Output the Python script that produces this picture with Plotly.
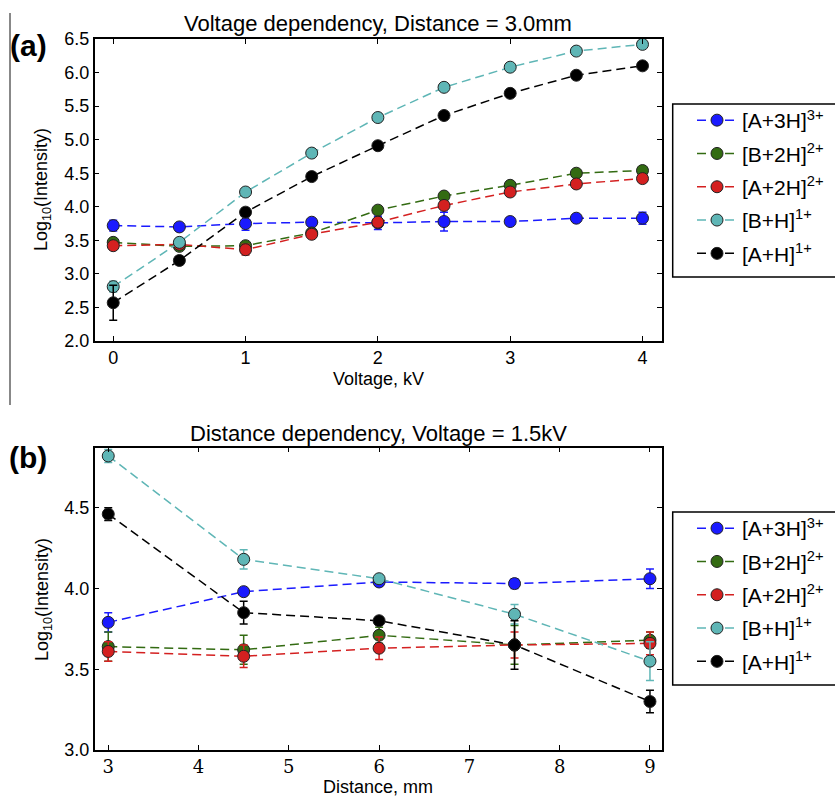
import plotly.graph_objects as go

# ---------------- data ----------------
names = ["[A+3H]<sup>3+</sup>", "[B+2H]<sup>2+</sup>", "[A+2H]<sup>2+</sup>",
         "[B+H]<sup>1+</sup>", "[A+H]<sup>1+</sup>"]
colors = ["#1a1aff", "#336b12", "#d42020", "#5fb6b6", "#000000"]

voltage = [0, 0.5, 1, 1.5, 2, 2.5, 3, 3.5, 4]
v_A3H = [3.72, 3.70, 3.75, 3.77, 3.76, 3.78, 3.78, 3.83, 3.83]
v_A3H_err = [0.08, 0.04, 0.10, 0.03, 0.10, 0.14, 0.03, 0.03, 0.09]
v_B2H = [3.47, 3.41, 3.42, 3.61, 3.95, 4.16, 4.32, 4.50, 4.54]
v_B2H_err = [0.04, 0.05, 0.04, 0.04, 0.03, 0.05, 0.05, 0.05, 0.03]
v_A2H = [3.42, 3.44, 3.36, 3.59, 3.77, 4.02, 4.22, 4.34, 4.42]
v_A2H_err = [0.05, 0.07, 0.08, 0.04, 0.04, 0.04, 0.04, 0.06, 0.03]
v_BH = [2.81, 3.47, 4.22, 4.80, 5.33, 5.78, 6.08, 6.32, 6.42]
v_BH_err = [0.08, 0.04, 0.03, 0.03, 0.03, 0.03, 0.03, 0.03, 0.05]
v_AH = [2.57, 3.20, 3.92, 4.45, 4.91, 5.36, 5.69, 5.96, 6.10]
v_AH_err = [0.26, 0.06, 0.06, 0.03, 0.03, 0.03, 0.03, 0.03, 0.03]

distance = [3, 4.5, 6, 7.5, 9]
d_A3H = [3.79, 3.98, 4.04, 4.03, 4.06]
d_A3H_err = [0.06, 0.02, 0.02, 0.03, 0.06]
d_B2H = [3.64, 3.62, 3.71, 3.65, 3.68]
d_B2H_err = [0.09, 0.09, 0.05, 0.12, 0.05]
d_A2H = [3.61, 3.58, 3.63, 3.65, 3.66]
d_A2H_err = [0.06, 0.07, 0.07, 0.08, 0.07]
d_BH = [4.82, 4.18, 4.06, 3.84, 3.55]
d_BH_err = [0.04, 0.06, 0.02, 0.06, 0.12]
d_AH = [4.46, 3.85, 3.80, 3.65, 3.30]
d_AH_err = [0.04, 0.07, 0.02, 0.15, 0.07]

volt_series = [(v_A3H, v_A3H_err), (v_B2H, v_B2H_err), (v_A2H, v_A2H_err),
               (v_BH, v_BH_err), (v_AH, v_AH_err)]
dist_series = [(d_A3H, d_A3H_err), (d_B2H, d_B2H_err), (d_A2H, d_A2H_err),
               (d_BH, d_BH_err), (d_AH, d_AH_err)]

W, H = 835, 796
fig = go.Figure()

def add(xs, series, xa, ya, legend):
    for (ys, es), nm, c in zip(series, names, colors):
        fig.add_trace(go.Scatter(
            x=xs, y=ys, name=nm, mode="lines+markers",
            xaxis=xa, yaxis=ya, legend=legend, legendgroup=legend + nm,
            line=dict(color=c, width=1.5, dash="9px,5px"),
            marker=dict(color=c, size=12, line=dict(color="#222222", width=1)),
            error_y=dict(type="data", array=es, visible=True, color=c,
                         thickness=1.5, width=4),
        ))

add(voltage, volt_series, "x", "y", "legend")
add(distance, dist_series, "x2", "y2", "legend2")

sans = "Liberation Sans, Arial, sans-serif"
serif = "DejaVu Serif, serif"
TICK = 18

xd = [94.7 / W, 661.7 / W]
common = dict(showline=True, linecolor="black", linewidth=1.5, mirror="allticks",
              ticks="inside", ticklen=5, tickcolor="black", showgrid=False,
              zeroline=False, automargin=False)

leg = dict(xanchor="left", yanchor="top", borderwidth=0, bgcolor="rgba(0,0,0,0)",
           font=dict(family=sans, size=21, color="black"), itemwidth=40,
           tracegroupgap=3)

fig.update_layout(
    width=W, height=H, margin=dict(l=0, r=0, t=0, b=0, autoexpand=False),
    paper_bgcolor="white", plot_bgcolor="white", showlegend=True,
    xaxis=dict(domain=xd, range=[-0.14, 4.145], tickvals=[0, 1, 2, 3, 4],
               tickfont=dict(family=sans, size=TICK, color="black"), anchor="y", **common),
    yaxis=dict(domain=[1 - 341 / H, 1 - 39 / H], range=[2.0, 6.5], dtick=0.5,
               tickformat=".1f", tickfont=dict(family=sans, size=TICK, color="black"),
               anchor="x", **common),
    xaxis2=dict(domain=xd, range=[2.85, 9.13], tickvals=[3, 4, 5, 6, 7, 8, 9],
                tickfont=dict(family=serif, size=TICK, color="black"), anchor="y2", **common),
    yaxis2=dict(domain=[1 - 750 / H, 1 - 447.7 / H], range=[3.0, 4.871],
                tickvals=[3.0, 3.5, 4.0, 4.5], tickformat=".1f",
                tickfont=dict(family=sans, size=TICK, color="black"), anchor="x2", **common),
    legend=dict(x=692 / W, y=1 - 100 / H, **leg),
    legend2=dict(x=692 / W, y=1 - 508 / H, **leg),
)

# legend frames (extend past the right edge, as in the reference)
for y0, y1 in [(104, 277), (512, 685)]:
    fig.add_shape(type="rect", xref="paper", yref="paper",
                  x0=672.7 / W, x1=850 / W, y0=1 - y0 / H, y1=1 - y1 / H,
                  line=dict(color="black", width=1.5), fillcolor="white", layer="below")

def ann(text, x, y, size, angle=0, bold=False, family=sans):
    fig.add_annotation(text=("<b>%s</b>" % text) if bold else text,
                       x=x / W, y=1 - y / H, xref="paper", yref="paper",
                       showarrow=False, textangle=angle,
                       font=dict(family=family, size=size, color="black"),
                       xanchor="center", yanchor="middle")

ann("Voltage dependency, Distance = 3.0mm", 378, 23, 22)
ann("Distance dependency, Voltage = 1.5kV", 378, 433, 22)
ann("(a)", 28, 46, 30, bold=True)
ann("(b)", 28, 457, 30, bold=True)
ann("Voltage, kV", 378, 379, 18)
ann("Distance, mm", 378, 787, 18)
ann("Log<sub>10</sub>(Intensity)", 43, 190, 18, angle=-90)
ann("Log<sub>10</sub>(Intensity)", 43, 600, 18, angle=-90)

fig.add_shape(type="line", xref="paper", yref="paper",
              x0=10 / W, x1=10 / W, y0=1 - 13 / H, y1=1 - 405 / H,
              line=dict(color="#888888", width=2))

fig.write_html("out.html", config={"displayModeBar": False},
               post_script="document.body.style.margin='0';document.body.style.overflow='hidden';")
